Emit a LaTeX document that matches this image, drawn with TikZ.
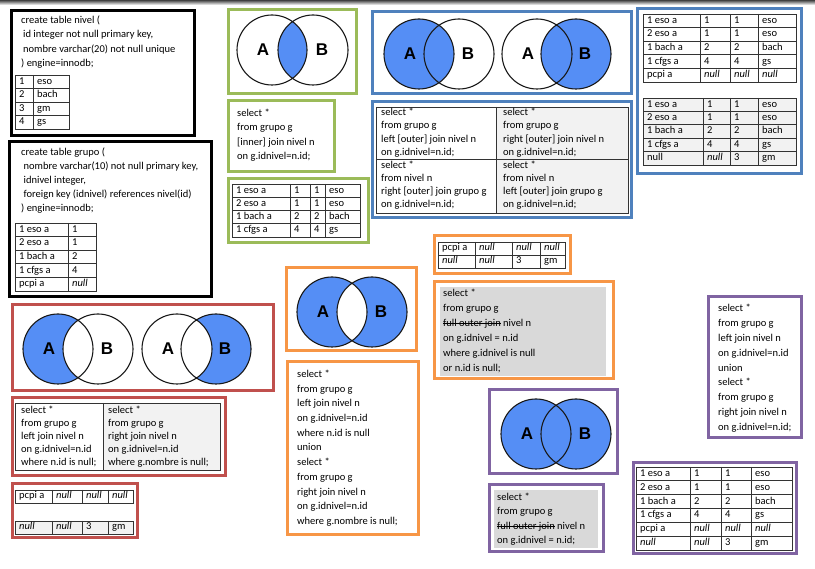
\documentclass[tikz,border=0pt]{standalone}
\usepackage{fontspec}
\setmainfont{Carlito}
\newfontfamily\vennfont{Liberation Sans}
\newsavebox\strkbox
\newcommand\strk[1]{\sbox\strkbox{#1}\rlap{\rule[2.6pt]{\wd\strkbox}{0.8pt}}\usebox\strkbox}
\definecolor{cgreen}{RGB}{155,187,89}
\definecolor{cblue}{RGB}{79,129,189}
\definecolor{cred}{RGB}{192,80,77}
\definecolor{corange}{RGB}{247,150,70}
\definecolor{cpurple}{RGB}{128,100,162}
\definecolor{vblue}{RGB}{85,142,245}
\definecolor{lgray}{RGB}{242,242,242}
\definecolor{mgray}{RGB}{217,217,217}
\newcommand\sqlblk[1]{\begin{tabular}[t]{@{}l@{}}#1\end{tabular}}
\newcommand\trow[2]{\foreach \xx/\cc in {#2}{\node[cell] at (\xx+4,#1) {\cc};}}
\newcommand\tgrid[6]{\draw[tline] (#1,#2) rectangle (#3,#4);
  \foreach \xx in {#5}{\draw[tline] (\xx,#2) -- (\xx,#4);}
  \foreach \yy in {#6}{\draw[tline] (#1,\yy) -- (#3,\yy);}}
\newcommand\vcirc[4]{\draw[vline] (#1,#3) circle[radius=35pt] (#2,#3) circle[radius=35pt];
  \node[vlabel] (#4A) at (#1-9,#3) {A}; \node[vlabel] (#4B) at (#2+9,#3) {B};}
\tikzset{
  frame/.style={line width=3pt},
  tline/.style={line width=0.8pt, draw=black!80},
  cell/.style={anchor=west, inner sep=0pt, text height=7pt, text depth=2pt, font=\fontsize{10.5}{12}\selectfont},
  sqltext/.style={anchor=base west, inner sep=0pt, font=\fontsize{10.5}{#1}\selectfont},
  vlabel/.style={inner sep=0pt, font=\vennfont\bfseries\fontsize{17}{17}\selectfont},
  vline/.style={line width=1.1pt, draw=black!90}
}
\begin{document}
\begin{tikzpicture}[x=1pt,y=-1pt]
\useasboundingbox (0,0) rectangle (815,569);
\fill[white] (0,0) rectangle (815,569);
\shade[top color=black!75, bottom color=white] (0,0) rectangle (815,5);

% ---------- black box 1 ----------
\draw[frame] (11,11) rectangle (194,136);
\node[sqltext=14.5] (nivelsql) at (21,23.5) {\sqlblk{create table nivel (\\\hspace{2pt}id integer not null primary key,\\\hspace{2pt}nombre varchar(20) not null unique\\) engine=innodb;}};
\tgrid{15}{75}{69}{129}{33}{88.5,102,115.5}
\trow{81.8}{15/1, 33/eso}
\trow{95.3}{15/2, 33/bach}
\trow{108.8}{15/3, 33/gm}
\trow{122.3}{15/4, 33/gs}

% ---------- black box 2 ----------
\draw[frame] (9,142) rectangle (211,297);
\node[sqltext=14] (gruposql) at (21,155.5) {\sqlblk{create table grupo (\\\hspace{2.5pt}nombre varchar(10) not null primary key,\\\hspace{2.5pt}idnivel integer,\\\hspace{2.5pt}foreign key (idnivel) references nivel(id)\\) engine=innodb;}};
\tgrid{15}{223}{96}{291}{68}{236.6,250.2,263.8,277.4}
\trow{229.8}{15/1 eso a, 68/1}
\trow{243.4}{15/2 eso a, 68/1}
\trow{257}{15/1 bach a, 68/2}
\trow{270.6}{15/1 cfgs a, 68/4}
\trow{284.2}{15/pcpi a, 68/\textit{null}}

% ---------- green ----------
\draw[frame, cgreen] (228,10) rectangle (356,94);
\begin{scope}\clip (272,50) circle[radius=35pt]; \fill[vblue] (313,50) circle[radius=35pt];\end{scope}
\vcirc{272}{313}{50}{g}
\draw[frame, cgreen] (228,101) rectangle (334,172);
\node[sqltext=14.5] (innersql) at (237,116.5) {\sqlblk{select *\\from grupo g\\{[}inner{]} join nivel n\\on g.idnivel=n.id;}};
\draw[frame, cgreen] (228,179) rectangle (368,243);
\tgrid{232}{184}{360}{237}{290,310,325}{197.3,210.5,223.8}
\trow{190.6}{232/1 eso a, 290/1, 310/1, 325/eso}
\trow{203.9}{232/2 eso a, 290/1, 310/1, 325/eso}
\trow{217.1}{232/1 bach a, 290/2, 310/2, 325/bach}
\trow{230.4}{232/1 cfgs a, 290/4, 310/4, 325/gs}

% ---------- blue ----------
\draw[frame, cblue] (372,12) rectangle (631,94);
\fill[vblue] (419,54) circle[radius=35pt];
\vcirc{419}{459}{54}{bl}
\fill[vblue] (576,54) circle[radius=35pt];
\vcirc{537}{576}{54}{br}
\draw[frame, cblue] (372,102) rectangle (631,218);
\fill[lgray] (496,107) rectangle (628,213);
\tgrid{376}{107}{628}{213}{496}{159}
\node[sqltext=13.3] (leftsql) at (381,115.5) {\sqlblk{select *\\from grupo g\\left {[}outer{]} join nivel n\\on g.idnivel=n.id;}};
\node[sqltext=13.3] (rightsql) at (503,115.5) {\sqlblk{select *\\from grupo g\\right {[}outer{]} join nivel n\\on g.idnivel=n.id;}};
\node[sqltext=13] (leftsqlb) at (381,168.5) {\sqlblk{select *\\from nivel n\\right {[}outer{]} join grupo g\\on g.idnivel=n.id;}};
\node[sqltext=13] (rightsqlb) at (503,168.5) {\sqlblk{select *\\from nivel n\\left {[}outer{]} join grupo g\\on g.idnivel=n.id;}};
\draw[frame, cblue] (637,9) rectangle (801,174);
\tgrid{643}{14}{796}{82}{700,730,758}{27.6,41.2,54.8,68.4}
\trow{20.8}{643/1 eso a, 700/1, 730/1, 758/eso}
\trow{34.4}{643/2 eso a, 700/1, 730/1, 758/eso}
\trow{48}{643/1 bach a, 700/2, 730/2, 758/bach}
\trow{61.6}{643/1 cfgs a, 700/4, 730/4, 758/gs}
\trow{75.2}{643/pcpi a, 700/\textit{null}, 730/\textit{null}, 758/\textit{null}}
\fill[lgray] (643,98) rectangle (796,165);
\tgrid{643}{98}{796}{165}{703,730,758}{111.4,124.8,138.2,151.6}
\trow{104.7}{643/1 eso a, 703/1, 730/1, 758/eso}
\trow{118.1}{643/2 eso a, 703/1, 730/1, 758/eso}
\trow{131.5}{643/1 bach a, 703/2, 730/2, 758/bach}
\trow{144.9}{643/1 cfgs a, 703/4, 730/4, 758/gs}
\trow{158.3}{643/null, 703/\textit{null}, 730/3, 758/gm}

% ---------- red ----------
\draw[frame, cred] (12,305) rectangle (273,391);
\fill[vblue] (58,349) circle[radius=35pt];
\begin{scope}\clip (58,349) circle[radius=35pt]; \fill[white] (98,349) circle[radius=35pt];\end{scope}
\vcirc{58}{98}{349}{rl}
\fill[vblue] (216,349) circle[radius=35pt];
\begin{scope}\clip (216,349) circle[radius=35pt]; \fill[white] (177,349) circle[radius=35pt];\end{scope}
\vcirc{177}{216}{349}{rr}
\draw[frame, cred] (12,398) rectangle (225,476);
\fill[lgray] (103,403) rectangle (220,470);
\draw[tline] (15,403) rectangle (220,470);
\draw[tline] (103,403) -- (103,470);
\node[sqltext=13] (ljnull) at (21,413.5) {\sqlblk{select *\\from grupo g\\left join nivel n\\on g.idnivel=n.id\\where n.id is null;}};
\node[sqltext=13] (rjnull) at (108,413.5) {\sqlblk{select *\\from grupo g\\right join nivel n\\on g.idnivel=n.id\\where g.nombre is null;}};
\draw[frame, cred] (12,484) rectangle (137,538);
\draw[tline] (15,490) rectangle (133,503);
\foreach \xx in {52,82,108}{\draw[tline] (\xx,490) -- (\xx,503);}
\trow{496.5}{15/pcpi a, 52/\textit{null}, 82/\textit{null}, 108/\textit{null}}
\fill[lgray] (15,521) rectangle (133,534);
\draw[tline] (15,521) rectangle (133,534);
\foreach \xx in {52,82,108}{\draw[tline] (\xx,521) -- (\xx,534);}
\trow{527.5}{15/\textit{null}, 52/\textit{null}, 82/3, 108/gm}

% ---------- orange ----------
\draw[frame, corange] (286,268) rectangle (416,351);
\fill[vblue] (332,312) circle[radius=35pt] (372,312) circle[radius=35pt];
\begin{scope}\clip (332,312) circle[radius=35pt]; \fill[white] (372,312) circle[radius=35pt];\end{scope}
\vcirc{332}{372}{312}{o}
\draw[frame, corange] (287,362) rectangle (418,535);
\node[sqltext=14.7] (xorsql) at (297,377.5) {\sqlblk{select *\\from grupo g\\left join nivel n\\on g.idnivel=n.id\\where n.id is null\\union\\select *\\from grupo g\\right join nivel n\\on g.idnivel=n.id\\where g.nombre is null;}};
\draw[frame, corange] (434,236) rectangle (570,274);
\tgrid{438}{242}{565}{268}{475,512,540}{255}
\trow{248.5}{438/pcpi a, 475/\textit{null}, 512/\textit{null}, 540/\textit{null}}
\trow{261.5}{438/\textit{null}, 475/\textit{null}, 512/3, 540/gm}
\draw[frame, corange] (434,282) rectangle (613,379);
\fill[mgray] (440,287) rectangle (606,376);
\node[sqltext=15] (fullnull) at (443,296.5) {\sqlblk{select *\\from grupo g\\\strk{full outer join} nivel n\\on g.idnivel = n.id\\where g.idnivel is null\\or n.id is null;}};

% ---------- purple ----------
\draw[frame, cpurple] (489,390) rectangle (617,474);
\fill[vblue] (536,434) circle[radius=35pt] (576,434) circle[radius=35pt];
\vcirc{536}{576}{434}{p}
\draw[frame, cpurple] (489,485) rectangle (603,552);
\fill[mgray] (494,490) rectangle (598,548);
\node[sqltext=14.5] (fullsql) at (497,500.5) {\sqlblk{select *\\from grupo g\\\strk{full outer join} nivel n\\on g.idnivel = n.id;}};
\draw[frame, cpurple] (708,297) rectangle (801,438);
\node[sqltext=14.9] (unionsql) at (718,311.5) {\sqlblk{select *\\from grupo g\\left join nivel n\\on g.idnivel=n.id\\union\\select *\\from grupo g\\right join nivel n\\on g.idnivel=n.id;}};
\draw[frame, cpurple] (633,463) rectangle (796,554);
\tgrid{636}{467}{792}{550}{690,721,751}{480.8,494.7,508.5,522.3,536.2}
\trow{473.9}{636/1 eso a, 690/1, 721/1, 751/eso}
\trow{487.8}{636/2 eso a, 690/1, 721/1, 751/eso}
\trow{501.6}{636/1 bach a, 690/2, 721/2, 751/bach}
\trow{515.4}{636/1 cfgs a, 690/4, 721/4, 751/gs}
\trow{529.3}{636/pcpi a, 690/\textit{null}, 721/\textit{null}, 751/\textit{null}}
\trow{543.1}{636/\textit{null}, 690/\textit{null}, 721/3, 751/gm}
\end{tikzpicture}
\end{document}
